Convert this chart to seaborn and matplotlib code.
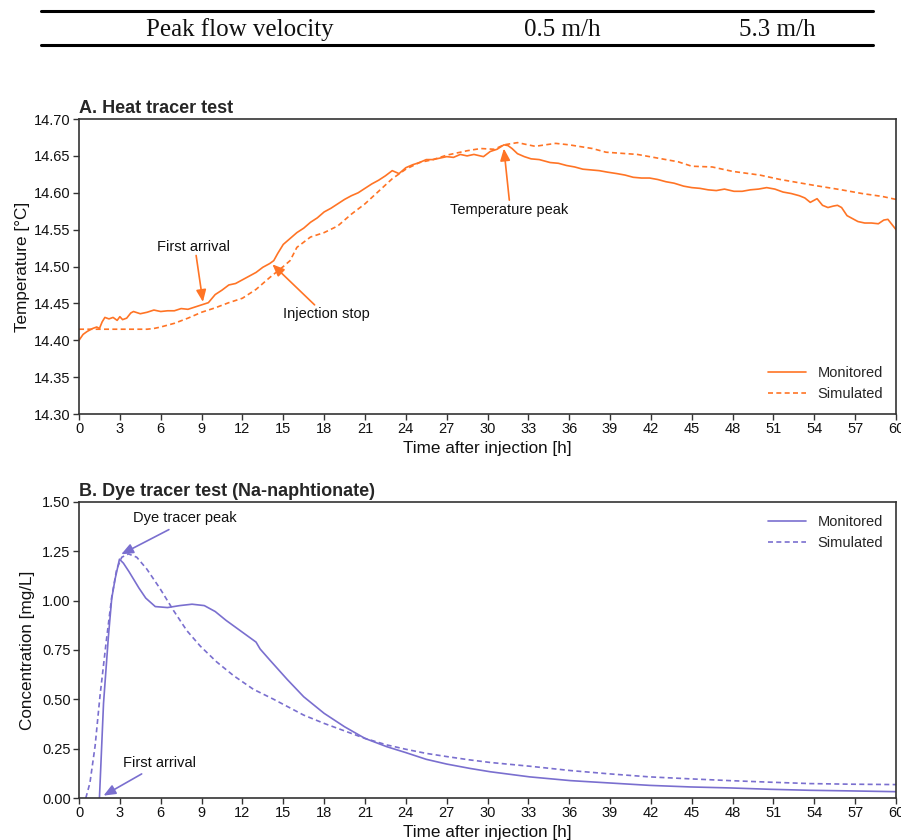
import numpy as np
import pandas as pd
import matplotlib
matplotlib.use("Agg")
import matplotlib.pyplot as plt
import seaborn as sns

# table row on top
table_cells = ["Peak flow velocity", "0.5 m/h", "5.3 m/h"]

# A. heat tracer test (hours, degC)
heat_mon_t = [0, 0.3, 0.6, 1.0, 1.3, 1.5, 1.7, 1.9, 2.2, 2.5,
              2.8, 3.0, 3.2, 3.5, 3.8, 4.0, 4.5, 5.0, 5.5, 6.0,
              6.5, 7.0, 7.5, 8.0, 8.5, 9.0, 9.5, 10.0, 10.5, 11.0,
              11.5, 12.0, 12.5, 13.0, 13.5, 14.0, 14.3, 14.6, 15.0, 15.5,
              16.0, 16.5, 17.0, 17.5, 18.0, 18.5, 19.0, 19.5, 20.0, 20.5,
              21.0, 21.5, 22.0, 22.5, 23.0, 23.5, 24.0, 24.5, 25.0, 25.5,
              26.0, 26.5, 27.0, 27.5, 28.0, 28.5, 29.0, 29.7, 30.2, 30.7,
              31.2, 31.5, 31.8, 32.2, 32.7, 33.2, 33.8, 34.6, 35.2, 35.8,
              36.4, 37.0, 37.6, 38.2, 38.8, 39.5, 40.1, 40.7, 41.3, 41.9,
              42.5, 43.1, 43.7, 44.4, 45.0, 45.6, 46.2, 46.8, 47.4, 48.1,
              48.7, 49.3, 49.9, 50.5, 51.1, 51.7, 52.3, 52.9, 53.3, 53.7,
              54.2, 54.6, 55.0, 55.4, 55.7, 56.0, 56.4, 56.8, 57.2, 57.7,
              58.2, 58.7, 59.1, 59.4, 59.7, 60.0]
heat_mon_v = [14.400, 14.408, 14.412, 14.416, 14.418, 14.416, 14.425, 14.431, 14.429, 14.431,
              14.427, 14.432, 14.428, 14.430, 14.437, 14.439, 14.436, 14.438, 14.441, 14.439,
              14.440, 14.440, 14.443, 14.442, 14.445, 14.448, 14.451, 14.462, 14.468, 14.475,
              14.477, 14.482, 14.487, 14.492, 14.499, 14.504, 14.508, 14.518, 14.530, 14.538,
              14.546, 14.552, 14.560, 14.566, 14.574, 14.579, 14.585, 14.591, 14.596, 14.600,
              14.606, 14.612, 14.617, 14.623, 14.630, 14.626, 14.634, 14.638, 14.641, 14.645,
              14.645, 14.647, 14.649, 14.648, 14.652, 14.650, 14.652, 14.649, 14.656, 14.659,
              14.665, 14.664, 14.660, 14.653, 14.649, 14.646, 14.645, 14.641, 14.640, 14.637,
              14.635, 14.632, 14.631, 14.630, 14.628, 14.626, 14.624, 14.621, 14.620, 14.620,
              14.618, 14.615, 14.613, 14.609, 14.607, 14.606, 14.604, 14.603, 14.605, 14.602,
              14.602, 14.604, 14.605, 14.607, 14.605, 14.601, 14.599, 14.596, 14.593, 14.587,
              14.592, 14.583, 14.580, 14.582, 14.583, 14.580, 14.569, 14.565, 14.561, 14.559,
              14.559, 14.558, 14.563, 14.564, 14.557, 14.550]
heat_sim_t = [0, 1, 2, 3, 4, 5, 5.5, 6, 7, 8,
              9, 10, 11, 12, 13, 14, 15, 15.5, 16, 17,
              18, 19, 20, 21, 22, 23, 24, 25, 26, 27,
              28.5, 29.5, 30.5, 31.2, 32.2, 33.5, 35, 36, 37.7, 38.7,
              41, 42.5, 44, 45, 46.5, 48, 50, 51.5, 54, 56,
              57.5, 59, 60]
heat_sim_v = [14.415, 14.415, 14.415, 14.415, 14.415, 14.415, 14.416, 14.418, 14.423, 14.430,
              14.438, 14.444, 14.451, 14.457, 14.469, 14.485, 14.500, 14.508, 14.526, 14.540,
              14.546, 14.555, 14.571, 14.585, 14.602, 14.619, 14.632, 14.641, 14.645, 14.651,
              14.657, 14.660, 14.659, 14.665, 14.668, 14.663, 14.667, 14.665, 14.660, 14.655,
              14.652, 14.647, 14.642, 14.636, 14.635, 14.629, 14.624, 14.618, 14.610, 14.604,
              14.599, 14.595, 14.591]

# B. dye tracer test (hours, mg/L)
dye_mon_t = [1.5, 1.8, 2.16, 2.4, 2.65, 2.97, 3.26, 3.67, 4.4, 4.9,
             5.6, 6.5, 7.4, 8.3, 9.2, 10.0, 10.8, 11.6, 12.4, 13.0,
             13.3, 14.0, 15.3, 16.5, 18.0, 19.5, 21.0, 22.6, 24.0, 25.5,
             27.0, 28.7, 30.2, 33.1, 36.1, 39.0, 41.9, 44.9, 47.8, 50.8,
             53.7, 56.6, 60]
dye_mon_c = [0.0, 0.48, 0.82, 1.01, 1.11, 1.21, 1.19, 1.147, 1.064, 1.013,
             0.97, 0.965, 0.975, 0.982, 0.975, 0.945, 0.90, 0.86, 0.82, 0.79,
             0.755, 0.70, 0.60, 0.513, 0.429, 0.361, 0.302, 0.26, 0.23, 0.196,
             0.172, 0.15, 0.133, 0.107, 0.088, 0.076, 0.064, 0.056, 0.051, 0.044,
             0.039, 0.036, 0.032]
dye_sim_t = [0.5, 0.8, 1.18, 1.54, 1.99, 2.4, 2.77, 3.14, 3.63, 4.24,
             4.98, 5.96, 6.94, 7.92, 8.9, 10.1, 11.35, 12.8, 14.3, 16.5,
             18.0, 19.5, 21.0, 22.6, 24.0, 25.5, 27.0, 28.7, 30.2, 33.1,
             36.1, 39.0, 41.9, 44.9, 47.8, 50.8, 53.7, 56.6, 60]
dye_sim_c = [0.0, 0.076, 0.263, 0.517, 0.788, 1.017, 1.16, 1.22, 1.237, 1.22,
             1.16, 1.06, 0.95, 0.848, 0.77, 0.69, 0.62, 0.551, 0.50, 0.42,
             0.378, 0.34, 0.302, 0.269, 0.247, 0.226, 0.21, 0.193, 0.18, 0.161,
             0.139, 0.122, 0.107, 0.097, 0.088, 0.08, 0.073, 0.07, 0.068]

# annotations: text, text position, arrow tail, arrow head (data coords)
heat_notes = [("First arrival", (8.4, 14.527), (8.6, 14.515), (9.1, 14.452)),
              ("Injection stop", (18.2, 14.436), (17.3, 14.448), (14.2, 14.503)),
              ("Temperature peak", (31.6, 14.577), (31.6, 14.590), (31.2, 14.660))]
dye_notes = [("Dye tracer peak", (7.8, 1.42), (6.6, 1.36), (3.1, 1.235)),
             ("First arrival", (5.9, 0.176), (4.6, 0.122), (1.8, 0.012))]

orange = "#ff7425"
purple = "#7a6fcf"

sns.set_theme(style="ticks")
plt.rcParams['font.family'] = ['Liberation Sans', 'DejaVu Sans']

fig = plt.figure(figsize=(9.01, 8.4), dpi=100)
ax_a = fig.add_axes([0.0877, 0.5071, 0.9068, 0.3512])
ax_b = fig.add_axes([0.0877, 0.0500, 0.9068, 0.3524])

heat = pd.concat([
    pd.DataFrame({"t": heat_mon_t, "v": heat_mon_v, "series": "Monitored"}),
    pd.DataFrame({"t": heat_sim_t, "v": heat_sim_v, "series": "Simulated"}),
])
dye = pd.concat([
    pd.DataFrame({"t": dye_mon_t, "v": dye_mon_c, "series": "Monitored"}),
    pd.DataFrame({"t": dye_sim_t, "v": dye_sim_c, "series": "Simulated"}),
])

styles = {"Monitored": "", "Simulated": (3, 2)}
for ax, df, col in [(ax_a, heat, orange), (ax_b, dye, purple)]:
    sns.lineplot(data=df, x="t", y="v", style="series", dashes=styles, color=col,
                 linewidth=1.2, ax=ax, estimator=None, sort=False)

ax_a.set_ylim(14.30, 14.70)
ax_a.set_yticks(np.arange(14.30, 14.701, 0.05))
ax_a.yaxis.set_major_formatter(matplotlib.ticker.FormatStrFormatter('%.2f'))
ax_b.set_ylim(0, 1.5)
ax_b.set_yticks(np.arange(0, 1.501, 0.25))
ax_b.yaxis.set_major_formatter(matplotlib.ticker.FormatStrFormatter('%.2f'))

for ax in (ax_a, ax_b):
    ax.set_xlim(0, 60)
    ax.set_xticks(np.arange(0, 61, 3))
    ax.set_xlabel("Time after injection [h]", fontsize=12.3, labelpad=3, color="#111111")
    ax.tick_params(labelsize=10.5, length=4, width=1, color="#333333", pad=2, labelcolor="#111111")
    for s in ax.spines.values():
        s.set_color("#333333")
        s.set_linewidth(1.2)

ax_a.set_ylabel("Temperature [°C]", fontsize=12.3, labelpad=3, color="#111111")
ax_b.set_ylabel("Concentration [mg/L]", fontsize=12.3, labelpad=5, color="#111111")
ax_a.set_title("A. Heat tracer test", loc="left", fontsize=13, fontweight="bold", pad=4)
ax_b.set_title("B. Dye tracer test (Na-naphtionate)", loc="left", fontsize=13, fontweight="bold", pad=4)

ax_a.legend(loc="lower right", frameon=False, fontsize=10.5, handlelength=2.6, borderaxespad=0.5)
ax_b.legend(loc="upper right", frameon=False, fontsize=10.5, handlelength=2.6, borderaxespad=0.5)

for ax, notes, col in [(ax_a, heat_notes, orange), (ax_b, dye_notes, purple)]:
    for label, txt, tail, head in notes:
        ax.text(txt[0], txt[1], label, ha="center", va="center", fontsize=10.5, color="#111111")
        ax.annotate("", xy=head, xytext=tail,
                    arrowprops=dict(arrowstyle="-|>,head_length=0.6,head_width=0.25",
                                    color=col, lw=1.2, shrinkA=0, shrinkB=0))

# table row above the figure
fig.add_artist(plt.Line2D([41 / 901, 873 / 901], [1 - 11 / 840, 1 - 11 / 840], color="black", lw=2.2))
fig.add_artist(plt.Line2D([41 / 901, 873 / 901], [1 - 45 / 840, 1 - 45 / 840], color="black", lw=2.2))
for label, xc in zip(table_cells, [240, 562, 777]):
    fig.text(xc / 901, 1 - 30 / 840, label, ha="center", va="center", fontsize=18,
             family=["Liberation Serif", "DejaVu Serif"], color="#111111")

fig.savefig("out.png", dpi=100)
